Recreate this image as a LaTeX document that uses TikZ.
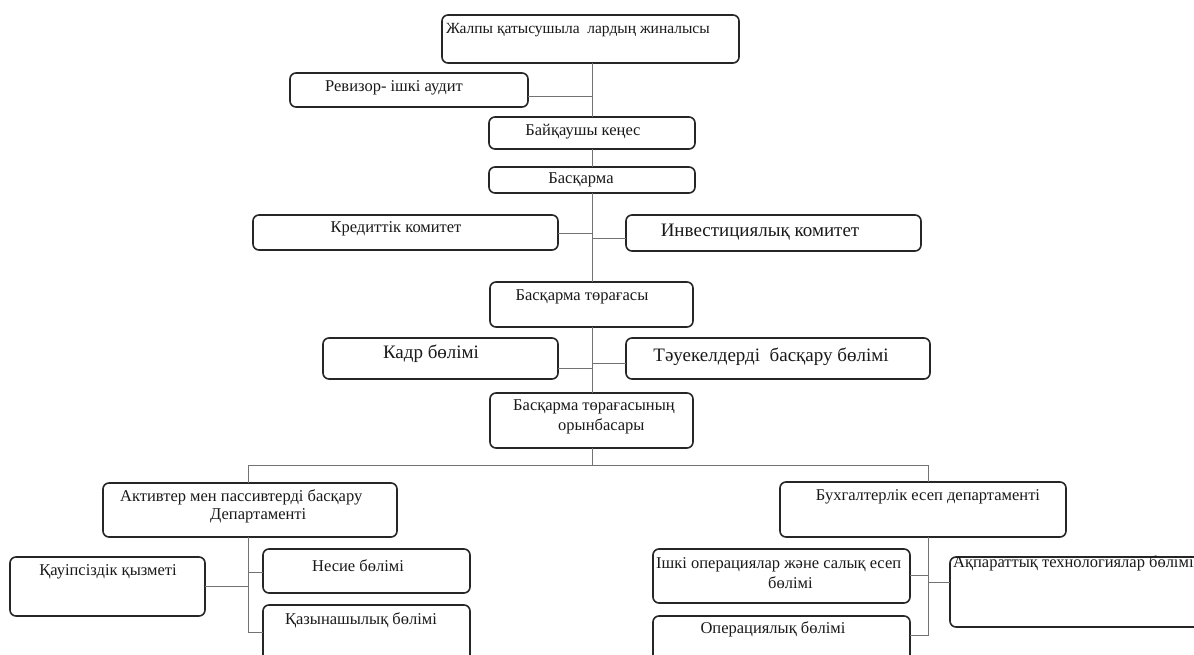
\documentclass[tikz,border=0pt]{standalone}
\usepackage{fontspec}
\setmainfont{Liberation Serif}
\usetikzlibrary{fit}
\begin{document}
\begin{tikzpicture}[x=1pt,y=-1pt,
  box/.style={draw=black!85, line width=1.6pt, rounded corners=6pt, inner sep=0pt, outer sep=0pt},
  conn/.style={draw=black!55, line width=0.9pt},
  txt/.style={inner sep=0pt, font=\fontsize{16.5}{20}\selectfont, text=black!90},
  big/.style={inner sep=0pt, font=\fontsize{19}{23}\selectfont, text=black!90}]
\clip (0,0) rectangle (1194,655);
\fill[white] (0,0) rectangle (1194,655);

% boxes
\node[box, fit={(442,15) (739,63)}] (top) {};
\node[box, fit={(290,73) (528,107)}] (rev) {};
\node[box, fit={(489,117) (695,149)}] (baik) {};
\node[box, fit={(489,167) (695,193)}] (bask) {};
\node[box, fit={(253,215) (558,250)}] (kred) {};
\node[box, fit={(626,215) (921,251)}] (inv) {};
\node[box, fit={(490,282) (693,327)}] (tor) {};
\node[box, fit={(323,338) (558,379)}] (kadr) {};
\node[box, fit={(626,338) (930,379)}] (tau) {};
\node[box, fit={(490,393) (693,448)}] (orin) {};
\node[box, fit={(103,483) (397,537)}] (aktiv) {};
\node[box, fit={(780,482) (1066,537)}] (bukh) {};
\node[box, fit={(10,557) (205,616)}] (kau) {};
\node[box, fit={(263,549) (470,593)}] (nesie) {};
\node[box, fit={(263,605) (470,672)}] (kaz) {};
\node[box, fit={(653,549) (910,603)}] (ishki) {};
\node[box, fit={(653,616) (910,672)}] (oper) {};
\node[box, fit={(950,557) (1215,627)}] (akp) {};

% texts
\node[txt, anchor=west, font=\fontsize{15.5}{19}\selectfont] (ttop) at (446,30) {Жалпы қатысушыла\ \ лардың жиналысы};
\node[txt] (trev) at (394,88) {Ревизор- ішкі аудит};
\node[txt] (tbaik) at (583,132) {Байқаушы кеңес};
\node[txt] (tbask) at (581,180) {Басқарма};
\node[txt] (tkred) at (396,229) {Кредиттік комитет};
\node[big] (tinv) at (760,232) {Инвестициялық комитет};
\node[txt] (ttor) at (582,297) {Басқарма төрағасы};
\node[big] (tkadr) at (431,354) {Кадр бөлімі};
\node[big] (ttau) at (771,357) {Тәуекелдерді\ \ басқару бөлімі};
\node[txt, anchor=west, align=left] (torin) at (513,417) {Басқарма төрағасының\\\hspace*{45pt}орынбасары};
\node[txt, anchor=west, align=left, font=\fontsize{16.5}{18}\selectfont] (taktiv) at (120,506) {Активтер мен пассивтерді басқару\\\hspace*{90pt}Департаменті};
\node[txt] (tbukh) at (928,497) {Бухгалтерлік есеп департаменті};
\node[txt] (tkau) at (108,572) {Қауіпсіздік қызметі};
\node[txt] (tnesie) at (358,566) {Несие бөлімі};
\node[txt] (tkaz) at (361,620) {Қазынашылық бөлімі};
\node[txt, anchor=west, align=left] (tishki) at (656,573) {Ішкі операциялар және салық есеп\\\hspace*{112pt}бөлімі};
\node[txt] (toper) at (773,629) {Операциялық бөлімі};
\node[txt, anchor=west] (takp) at (953,563) {Ақпараттық технологиялар бөлімі};

% junction coordinates
\coordinate (jrev) at (592,96);
\coordinate (jkred) at (592,233);
\coordinate (jinv) at (592,238);
\coordinate (jkadr) at (592,368);
\coordinate (jtau) at (592,363);
\coordinate (jbus) at (592,465);
\coordinate (bl) at (248,465);
\coordinate (br) at (928,465);
\coordinate (jkau) at (248,586);
\coordinate (jnes) at (248,572);
\coordinate (jkaz) at (248,632);
\coordinate (jish) at (928,575);
\coordinate (jakp) at (928,582);
\coordinate (jop) at (928,635);

% connectors
\draw[conn] (top.south -| jrev) -- (baik.north -| jrev);
\draw[conn] (rev.east |- jrev) -- (jrev);
\draw[conn] (baik.south -| jrev) -- (bask.north -| jrev);
\draw[conn] (bask.south -| jrev) -- (tor.north -| jrev);
\draw[conn] (kred.east |- jkred) -- (jkred);
\draw[conn] (jinv) -- (inv.west |- jinv);
\draw[conn] (tor.south -| jrev) -- (orin.north -| jrev);
\draw[conn] (kadr.east |- jkadr) -- (jkadr);
\draw[conn] (jtau) -- (tau.west |- jtau);
\draw[conn] (orin.south -| jbus) -- (jbus);
\draw[conn] (aktiv.north -| bl) -- (bl) -- (br) -- (bukh.north -| br);
\draw[conn] (aktiv.south -| jkaz) -- (jkaz) -- (kaz.west |- jkaz);
\draw[conn] (kau.east |- jkau) -- (jkau);
\draw[conn] (jnes) -- (nesie.west |- jnes);
\draw[conn] (bukh.south -| jop) -- (jop) -- (oper.east |- jop);
\draw[conn] (ishki.east |- jish) -- (jish);
\draw[conn] (jakp) -- (akp.west |- jakp);
\end{tikzpicture}
\end{document}
